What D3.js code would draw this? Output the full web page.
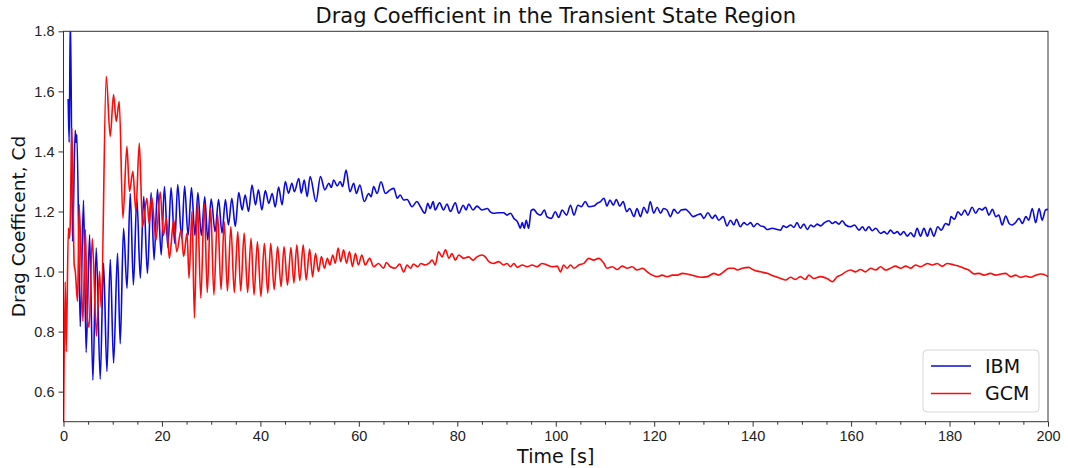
<!DOCTYPE html>
<html>
<head>
<meta charset="utf-8">
<script src="https://cdn.jsdelivr.net/npm/d3@7"></script>
<style>
  body { margin: 0; background: #fff; }
  svg { font-family: "DejaVu Sans", sans-serif; }
  .axis path, .axis line { stroke: #333; }
  .axis text { fill: #222; font-size: 14.5px; }
</style>
</head>
<body>
<svg id="chart"></svg>
<script>
// Data (peaks and troughs of each trace)
const ibmTime = [0.95,1.15,1.4,1.83,2.38,2.55,2.72,3.4,4.07,4.6,5.3,5.97,6.65,7.46,8.13,8.82,9.5,10.17,10.98,11.52,12.2,12.9,13.56,14.2,14.9,15.6,16.3,17.05,17.8,18.4,19.1,19.85,20.5,21.2,21.85,22.6,23.2,24.0,24.6,25.3,26.0,26.7,27.3,28.0,28.7,29.3,30.0,30.8,31.5,32.2,32.9,33.5,34.2,34.9,35.6,36.3,36.9,37.6,38.3,39.0,39.6,40.3,41.0,41.7,42.4,43.0,43.7,44.4,45.06,45.7,46.4,46.9,47.8,48.3,48.9,49.5,50.1,51.3,52.2,53.1,53.9,54.4,54.9,55.6,56.2,56.7,57.4,58.2,58.95,59.5,60.2,61.1,62.0,62.5,63.0,63.7,64.5,65.4,66.3,67.1,67.8,68.4,69.1,69.8,70.8,71.8,72.5,73.4,74.0,74.5,75.1,75.5,76.4,77.2,77.9,78.6,79.6,80.3,81.2,81.8,82.3,83.2,84.0,85.0,86.1,86.7,87.4,88.4,89.4,90.1,90.8,91.5,92.2,92.5,92.8,93.2,93.6,94.0,94.5,95.0,95.5,96.2,96.9,97.7,98.2,99.1,99.9,100.6,101.3,102.2,103.0,103.7,104.5,105.2,106.0,106.7,107.7,108.4,109.1,109.8,110.4,111.0,111.7,112.3,113.0,113.7,114.4,115.0,115.9,116.5,117.2,117.9,118.6,119.2,119.9,120.6,121.3,121.9,122.6,123.3,124.0,124.8,125.5,126.4,127.0,127.9,128.7,129.4,130.1,130.9,131.8,132.4,133.1,134.0,134.8,135.5,136.2,136.7,137.5,138.2,138.9,139.6,140.2,140.9,141.6,142.3,142.9,144.0,145.0,145.7,146.2,146.9,147.7,148.4,149.0,149.7,150.4,151.1,151.8,152.4,153.1,153.8,154.6,155.5,156.2,156.8,157.5,158.2,158.9,159.9,160.7,161.6,162.3,162.9,163.6,164.3,165.0,166.0,166.7,167.3,168.0,168.7,169.4,170.0,170.7,171.4,172.1,172.8,173.4,174.1,174.8,175.5,176.1,176.8,177.6,178.3,179.2,179.9,180.3,181.0,181.7,182.4,183.1,183.7,184.6,185.3,186.0,186.6,187.3,188.0,188.7,189.4,190.0,190.7,191.4,192.1,192.7,193.4,194.1,194.8,195.5,196.1,196.8,197.5,198.2,198.8,199.5,200.0];
const ibmCd = [1.575,1.43,1.86,1.10,1.47,1.43,1.455,0.817,1.238,0.73,1.122,0.639,1.078,0.642,1.028,0.667,1.04,0.695,1.061,0.76,1.144,0.944,1.26,0.955,1.244,0.978,1.25,0.994,1.263,1.039,1.274,1.055,1.283,1.08,1.28,1.094,1.29,1.11,1.285,1.12,1.28,1.12,1.263,1.12,1.249,1.105,1.241,1.133,1.24,1.128,1.24,1.155,1.244,1.15,1.263,1.205,1.255,1.2,1.288,1.222,1.272,1.205,1.27,1.227,1.26,1.215,1.281,1.222,1.30,1.261,1.294,1.266,1.31,1.261,1.305,1.25,1.316,1.233,1.316,1.272,1.294,1.28,1.305,1.285,1.3,1.283,1.338,1.266,1.294,1.26,1.288,1.233,1.26,1.249,1.283,1.26,1.299,1.26,1.271,1.277,1.244,1.255,1.238,1.24,1.216,1.233,1.216,1.194,1.227,1.21,1.233,1.205,1.229,1.205,1.225,1.2,1.229,1.194,1.221,1.205,1.225,1.205,1.218,1.205,1.21,1.199,1.194,1.196,1.196,1.188,1.194,1.177,1.166,1.155,1.144,1.163,1.144,1.171,1.144,1.203,1.207,1.194,1.188,1.205,1.183,1.177,1.199,1.18,1.205,1.188,1.221,1.188,1.221,1.216,1.233,1.216,1.218,1.227,1.233,1.244,1.218,1.238,1.221,1.24,1.218,1.233,1.199,1.21,1.183,1.21,1.183,1.214,1.194,1.233,1.194,1.214,1.194,1.21,1.205,1.183,1.207,1.194,1.205,1.207,1.199,1.183,1.188,1.192,1.177,1.196,1.177,1.188,1.171,1.183,1.152,1.171,1.155,1.174,1.149,1.163,1.155,1.163,1.149,1.16,1.152,1.149,1.14,1.144,1.14,1.138,1.152,1.147,1.155,1.147,1.163,1.144,1.158,1.14,1.155,1.149,1.158,1.152,1.163,1.169,1.16,1.166,1.158,1.169,1.155,1.149,1.155,1.138,1.149,1.136,1.149,1.136,1.144,1.127,1.133,1.125,1.138,1.127,1.133,1.122,1.133,1.118,1.129,1.116,1.144,1.118,1.144,1.118,1.144,1.118,1.149,1.138,1.16,1.155,1.183,1.174,1.199,1.188,1.205,1.188,1.214,1.194,1.21,1.205,1.214,1.188,1.207,1.183,1.188,1.155,1.185,1.16,1.155,1.163,1.177,1.16,1.183,1.171,1.21,1.163,1.21,1.171,1.205,1.207];

const gcmTime = [0.0,0.35,0.55,1.0,1.2,1.35,1.7,2.17,2.4,2.85,3.2,3.94,4.45,4.85,5.2,5.85,6.7,7.32,7.66,8.68,9.49,10.17,10.71,11.32,12.07,12.88,13.4,14.1,14.7,15.4,16.06,16.94,17.4,17.9,18.8,19.65,20.3,20.9,21.5,22.4,23.0,23.9,24.4,25.1,25.5,26.1,26.6,27.2,27.9,28.6,29.2,29.9,30.55,31.3,32.0,32.65,33.3,34.0,34.7,35.4,36.0,36.7,37.4,38.1,38.7,39.4,40.1,40.8,41.5,42.1,42.8,43.5,44.2,44.8,45.5,46.2,46.8,47.4,48.0,48.7,49.3,50.0,50.6,51.2,51.8,52.4,53.0,53.6,54.1,54.7,55.2,55.8,56.3,56.9,57.5,58.1,58.7,59.3,59.9,60.6,61.3,62.2,63.0,64.0,65.0,65.6,66.4,67.4,68.3,69.1,69.8,70.5,71.1,71.96,72.6,73.5,74.2,74.9,75.5,76.2,76.9,77.6,78.3,78.9,79.6,80.3,81.3,82.3,83.2,84.0,85.0,85.7,86.4,87.4,88.4,89.4,90.1,90.8,91.5,92.2,93.2,94.2,95.2,96.2,97.2,98.2,99.3,100.3,100.96,101.6,102.3,103.0,103.7,104.7,105.7,106.7,107.7,108.7,109.8,110.4,111.5,112.5,113.5,114.5,115.5,116.5,117.6,118.6,119.6,120.6,121.6,122.6,123.7,124.7,125.7,126.7,127.7,128.7,129.4,130.8,132.1,133.1,134.1,135.2,136.2,136.9,137.9,139.2,140.2,141.6,142.9,144.3,145.7,146.7,147.7,148.7,149.7,150.7,151.4,152.4,153.8,155.1,156.2,157.2,157.9,158.9,159.9,160.9,161.9,162.9,164.0,165.0,166.0,167.0,168.0,169.0,170.1,171.1,172.1,173.1,174.1,175.5,176.5,177.5,178.5,179.5,180.9,181.9,182.9,183.9,185.0,186.0,187.0,188.3,189.4,190.4,191.4,192.4,193.4,194.4,195.5,196.5,197.5,198.5,199.5,200.0];
const gcmCd = [0.45,0.966,0.733,1.145,1.11,1.15,1.478,1.023,1.0,0.901,1.223,0.834,1.14,0.84,0.815,1.11,0.785,1.001,0.879,1.65,1.45,1.589,1.5,1.567,1.178,1.417,1.267,1.334,1.201,1.428,1.15,1.244,1.16,1.25,1.105,1.265,1.12,1.177,1.044,1.172,1.066,1.139,1.05,1.128,0.978,1.2,0.845,1.233,0.911,1.227,0.93,1.211,0.922,1.194,0.94,1.166,0.935,1.15,0.93,1.133,0.935,1.128,0.93,1.111,0.922,1.1,0.917,1.094,0.928,1.094,0.94,1.083,0.95,1.083,0.955,1.08,0.962,1.089,0.97,1.089,0.972,1.075,0.983,1.061,1.0,1.05,1.011,1.044,1.022,1.055,1.028,1.078,1.033,1.072,1.028,1.066,1.017,1.061,1.022,1.055,1.022,1.044,1.016,1.027,1.011,1.03,1.016,1.011,1.025,0.999,1.022,1.011,1.025,1.016,1.027,1.022,1.027,1.038,1.022,1.066,1.049,1.072,1.044,1.06,1.038,1.055,1.044,1.049,1.038,1.049,1.055,1.049,1.033,1.027,1.033,1.022,1.027,1.016,1.027,1.014,1.022,1.016,1.022,1.016,1.027,1.022,1.016,1.018,0.999,1.022,1.011,1.022,1.011,1.022,1.027,1.044,1.038,1.044,1.027,1.011,1.016,1.007,1.018,1.011,1.016,1.005,1.011,0.999,0.988,0.983,0.988,0.983,0.988,0.988,0.994,0.992,0.988,0.983,0.981,0.983,0.994,0.988,0.999,1.011,1.011,1.005,1.011,1.014,1.005,0.999,0.994,0.985,0.977,0.972,0.981,0.974,0.983,0.974,0.988,0.977,0.983,0.977,0.966,0.983,0.988,0.999,1.005,0.999,1.007,0.999,1.011,1.005,1.016,1.005,1.011,1.018,1.011,1.018,1.011,1.022,1.016,1.027,1.022,1.027,1.018,1.027,1.022,1.018,1.011,1.005,0.992,0.994,0.988,0.994,0.988,0.992,0.994,0.983,0.988,0.981,0.985,0.981,0.988,0.992,0.988,0.983];

const xTicks = [0, 20, 40, 60, 80, 100, 120, 140, 160, 180, 200];
const xMinorTicks = d3.range(5, 200, 5).filter(d => d % 20 !== 0);
const yTicks = [0.6, 0.8, 1.0, 1.2, 1.4, 1.6, 1.8];
const seriesNames = ['IBM', 'GCM'];
const seriesColors = ['#0a0ae0', '#ff0a0a'];

const config = {
  containerWidth: 1068,
  containerHeight: 468,
  margin: {top: 31.3, right: 20, bottom: 46.3, left: 63.5}
};

const width = config.containerWidth - config.margin.left - config.margin.right;
const height = config.containerHeight - config.margin.top - config.margin.bottom;

const svg = d3.select('#chart')
    .attr('width', config.containerWidth)
    .attr('height', config.containerHeight);

const chart = svg.append('g')
    .attr('transform', `translate(${config.margin.left},${config.margin.top})`);

const xScale = d3.scaleLinear().domain([0, 200]).range([0, width]);
const yScale = d3.scaleLinear().domain([0.5, 1.8]).range([height, 0]);

// clip the traces to the plotting area (the IBM spike runs past 1.8)
chart.append('clipPath')
    .attr('id', 'plot-clip')
  .append('rect')
    .attr('width', width)
    .attr('height', height);

const line = d3.line()
    .x(d => xScale(d.t))
    .y(d => yScale(d.cd))
    .curve(d3.curveMonotoneX);

const series = [
  ibmTime.map((t, i) => ({t: t, cd: ibmCd[i]})),
  gcmTime.map((t, i) => ({t: t, cd: gcmCd[i]}))
];

chart.append('g')
    .attr('clip-path', 'url(#plot-clip)')
  .selectAll('.trace')
    .data(series)
  .join('path')
    .attr('class', 'trace')
    .attr('d', line)
    .attr('fill', 'none')
    .attr('stroke', (d, i) => seriesColors[i])
    .attr('stroke-width', 1.6)
    .attr('stroke-linejoin', 'round');

// Axes
chart.append('g')
    .attr('class', 'axis x-axis')
    .attr('transform', `translate(0,${height})`)
    .call(d3.axisBottom(xScale).tickValues(xTicks).tickFormat(d3.format('d')).tickSize(5).tickPadding(4))
    .call(g => g.select('.domain').remove());

chart.append('g')
    .attr('class', 'axis x-minor')
    .attr('transform', `translate(0,${height})`)
    .call(d3.axisBottom(xScale).tickValues(xMinorTicks).tickFormat('').tickSize(3))
    .call(g => g.select('.domain').remove());

chart.append('g')
    .attr('class', 'axis y-axis')
    .call(d3.axisLeft(yScale).tickValues(yTicks).tickFormat(d3.format('.1f')).tickSize(5).tickPadding(4))
    .call(g => g.select('.domain').remove());

// frame around the plot
chart.append('rect')
    .attr('width', width)
    .attr('height', height)
    .attr('fill', 'none')
    .attr('stroke', '#333')
    .attr('stroke-width', 1);

// Titles
svg.append('text')
    .attr('x', config.margin.left + width / 2)
    .attr('y', 23)
    .attr('text-anchor', 'middle')
    .attr('font-size', 21)
    .attr('fill', '#111')
    .text('Drag Coefficient in the Transient State Region');

svg.append('text')
    .attr('x', config.margin.left + width / 2)
    .attr('y', 463)
    .attr('text-anchor', 'middle')
    .attr('font-size', 19)
    .attr('fill', '#111')
    .text('Time [s]');

svg.append('text')
    .attr('transform', `translate(25,${config.margin.top + height / 2}) rotate(-90)`)
    .attr('text-anchor', 'middle')
    .attr('font-size', 18.5)
    .attr('fill', '#111')
    .text('Drag Coefficent, Cd');

// Legend
const legend = svg.append('g')
    .attr('transform', 'translate(923,350)');

legend.append('rect')
    .attr('width', 116)
    .attr('height', 62)
    .attr('rx', 4)
    .attr('fill', '#fff')
    .attr('fill-opacity', 0.8)
    .attr('stroke', '#d6d6d6');

const items = legend.selectAll('.legend-item')
    .data(seriesNames)
  .join('g')
    .attr('class', 'legend-item')
    .attr('transform', (d, i) => `translate(0,${16 + i * 27.5})`);

items.append('line')
    .attr('x1', 8)
    .attr('x2', 48)
    .attr('stroke', (d, i) => seriesColors[i])
    .attr('stroke-width', 1.6);

items.append('text')
    .attr('x', 62)
    .attr('dy', '0.35em')
    .attr('font-size', 19)
    .attr('fill', '#111')
    .text(d => d);
</script>
</body>
</html>
